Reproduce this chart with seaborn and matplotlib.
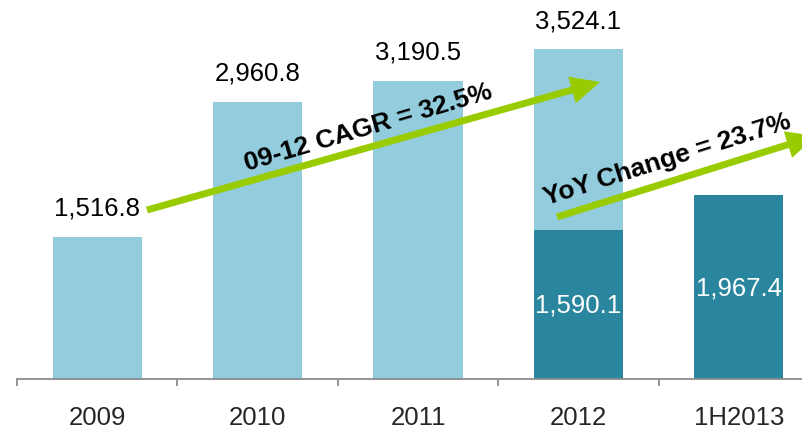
import matplotlib
matplotlib.use("Agg")
import matplotlib.pyplot as plt
import seaborn as sns
import pandas as pd
import numpy as np

# ---- data ----
periods = ["2009", "2010", "2011", "2012", "1H2013"]
full_year = [1516.8, 2960.8, 3190.5, 3524.1, np.nan]
first_half = [np.nan, np.nan, np.nan, 1590.1, 1967.4]
full_labels = ["1,516.8", "2,960.8", "3,190.5", "3,524.1", None]
half_labels = [None, None, None, "1,590.1", "1,967.4"]
cagr_text = "09-12 CAGR = 32.5%"
yoy_text = "YoY Change = 23.7%"

LIGHT = "#93CDDD"
DARK = "#2A869E"
GREEN = "#99CC00"
AXIS = "#8C8C8C"

sns.set_style("white")
plt.rcParams["font.family"] = ["Liberation Sans", "DejaVu Sans"]

fig = plt.figure(figsize=(8.03, 4.31), dpi=100)
ax = fig.add_axes([17 / 803, 51 / 431, 802 / 803, 374 / 431])

df_full = pd.DataFrame({"period": periods, "value": full_year}).dropna()
df_half = pd.DataFrame({"period": periods, "value": first_half}).dropna()

sns.barplot(data=df_full, x="period", y="value", order=periods, color=LIGHT,
            width=0.555, errorbar=None, saturation=1, linewidth=0, ax=ax)
sns.barplot(data=df_half, x="period", y="value", order=periods, color=DARK,
            width=0.555, errorbar=None, saturation=1, linewidth=0, ax=ax)

ax.set_xlim(-0.5, 4.5)
ax.set_ylim(0, 4000)
ax.set_xlabel("")
ax.set_ylabel("")
ax.set_yticks([])
for s in ["top", "right", "left"]:
    ax.spines[s].set_visible(False)
ax.spines["bottom"].set_color(AXIS)
ax.spines["bottom"].set_linewidth(1.3)

ax.set_xticks(range(len(periods)))
ax.set_xticklabels(periods, fontsize=18.5)
ax.tick_params(axis="x", which="major", bottom=True, length=0, pad=19)
ax.set_xticks(np.arange(-0.5, len(periods), 1.0), minor=True)
ax.tick_params(axis="x", which="minor", bottom=True, length=5, width=1.3,
               color=AXIS, direction="out")

# value labels
for i, (v, lab) in enumerate(zip(full_year, full_labels)):
    if lab is not None and not np.isnan(v):
        ax.annotate(lab, (i, v), xytext=(0, 16), textcoords="offset points",
                    ha="center", va="baseline", fontsize=18.5, color="black")
for i, (v, lab) in enumerate(zip(first_half, half_labels)):
    if lab is not None and not np.isnan(v):
        ax.text(i, v / 2, lab, ha="center", va="center", fontsize=18.5, color="white")

# arrows
arrow_style = "simple,head_length=2.1,head_width=2.0,tail_width=0.5"
ax.annotate("", xy=(3.135, 3176), xytext=(0.31, 1807),
            arrowprops=dict(arrowstyle=arrow_style, mutation_scale=10, fc=GREEN,
                            ec="none", shrinkA=0, shrinkB=0), annotation_clip=False)
ax.annotate("", xy=(4.48, 2600), xytext=(2.867, 1733),
            arrowprops=dict(arrowstyle=arrow_style, mutation_scale=10, fc=GREEN,
                            ec="none", shrinkA=0, shrinkB=0), annotation_clip=False)

ax.text(1.688, 2700, cagr_text, rotation=16.5, rotation_mode="anchor",
        ha="center", va="center", fontsize=19, fontweight="bold", color="black")
ax.text(3.552, 2360, yoy_text, rotation=17.5, rotation_mode="anchor",
        ha="center", va="center", fontsize=19, fontweight="bold", color="black")

fig.savefig("out.png", dpi=100)
